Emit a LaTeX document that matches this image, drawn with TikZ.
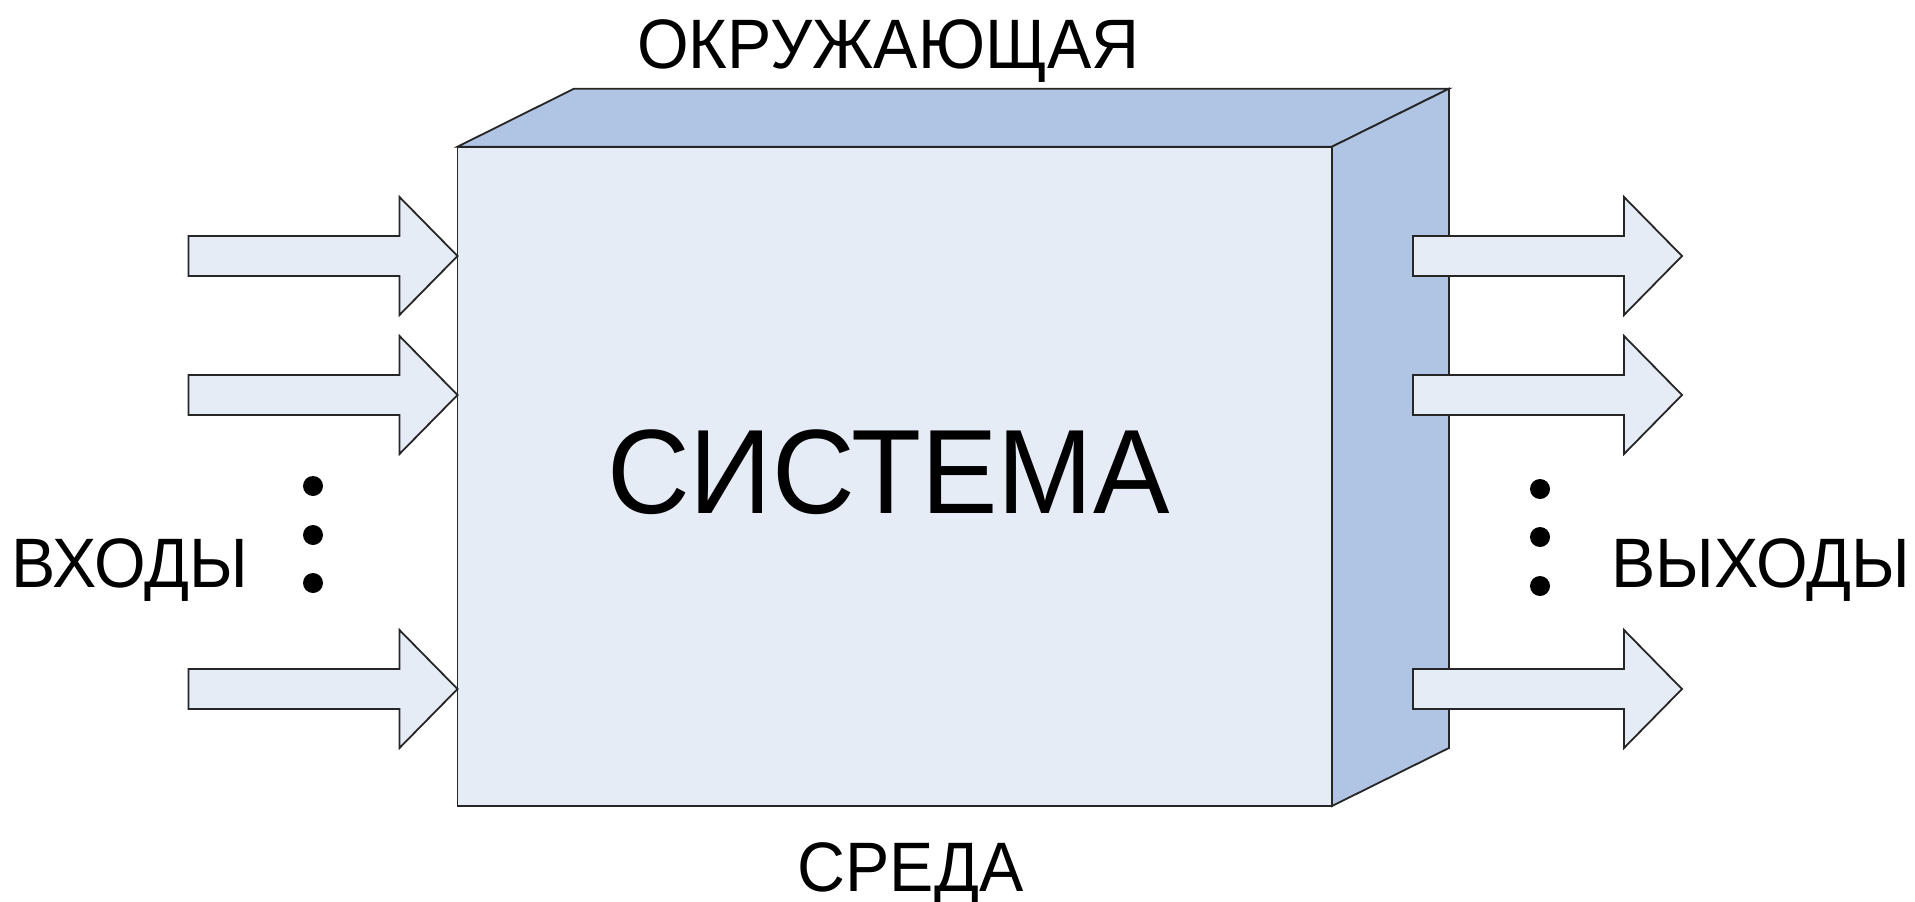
\documentclass[tikz,border=0pt]{standalone}
\usepackage{fontspec}
\setmainfont{Liberation Sans}
\definecolor{facelight}{RGB}{229,236,246}
\definecolor{facedark}{RGB}{176,196,227}
\tikzset{
  facestyle/.style={draw=black!85, line width=1.8pt, line join=miter},
  arrowshape/.style={draw=black!85, fill=facelight, line width=1.8pt, line join=miter},
  smalllabel/.style={inner sep=0pt, anchor=base west, xscale=0.948, font=\fontsize{70}{70}\selectfont},
  biglabel/.style={inner sep=0pt, anchor=base west, xscale=0.955, font=\fontsize{120}{120}\selectfont},
  dotstyle/.style={circle, fill=black, inner sep=0pt, minimum size=20pt}
}
\newcommand\fatarrow[3]{% name, x start, y centre
  \draw[arrowshape] (#2,#3-20) -- ++(211,0) -- ++(0,-39) -- (#2+269,#3) -- (#2+211,#3+59) -- ++(0,-39) -- (#2,#3+20) -- cycle;
  \coordinate (#1) at (#2+269,#3);
}
\begin{document}
\begin{tikzpicture}[x=1pt, y=-1pt]
\useasboundingbox (0,0) rectangle (1915,902);
% cube corners
\coordinate (ftl) at (457.5,146.7);
\coordinate (ftr) at (1332,146.7);
\coordinate (fbr) at (1332,806);
\coordinate (fbl) at (457.5,806);
\coordinate (btl) at (574,88.7);
\coordinate (btr) at (1449,88.7);
\coordinate (bbr) at (1449,748);
% top face
\filldraw[facestyle, fill=facedark] (ftl) -- (btl) -- (btr) -- (ftr) -- cycle;
% side face
\filldraw[facestyle, fill=facedark] (ftr) -- (btr) -- (bbr) -- (fbr) -- cycle;
% front face
\filldraw[facestyle, fill=facelight] (ftl) -- (ftr) -- (fbr) -- (fbl) -- cycle;
% input arrows
\fatarrow{in1}{188.5}{256}
\fatarrow{in2}{188.5}{395}
\fatarrow{in3}{188.5}{689}
% output arrows
\fatarrow{out1}{1413}{256}
\fatarrow{out2}{1413}{395}
\fatarrow{out3}{1413}{689}
% dots
\node[dotstyle] (di1) at (313,486) {};
\node[dotstyle] (di2) at (313,535) {};
\node[dotstyle] (di3) at (313,583) {};
\node[dotstyle] (do1) at (1540,489) {};
\node[dotstyle] (do2) at (1540,537) {};
\node[dotstyle] (do3) at (1540,586) {};
% labels
\node[smalllabel] (env1) at (637,68) {ОКРУЖАЮЩАЯ};
\node[smalllabel] (env2) at (797.5,891) {СРЕДА};
\node[smalllabel] (inputs) at (11,587) {ВХОДЫ};
\node[smalllabel] (outputs) at (1611,587) {ВЫХОДЫ};
\node[biglabel] (sys) at (607,513) {СИСТЕМА};
\end{tikzpicture}
\end{document}
